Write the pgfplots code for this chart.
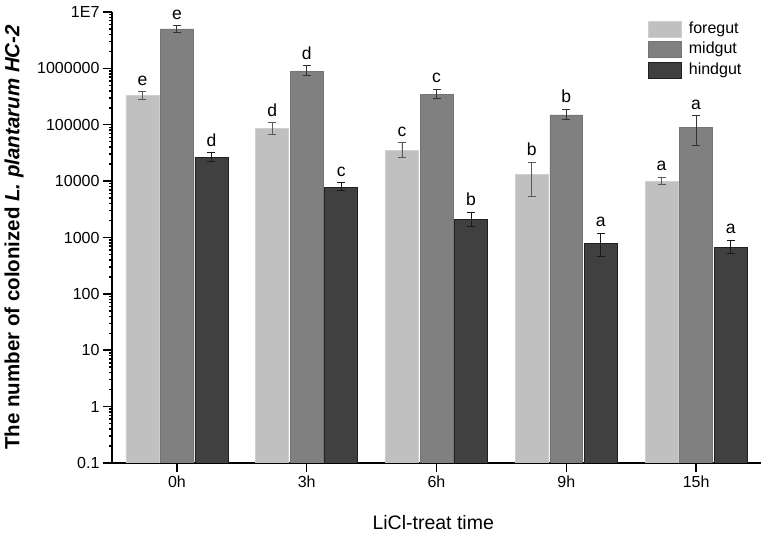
\documentclass[border=0pt]{standalone}
\usepackage{fontspec}
\setmainfont{Liberation Sans}
\usepackage{pgfplots}
\pgfplotsset{compat=1.18}
\definecolor{forefill}{HTML}{C0C0C0}
\definecolor{foredraw}{HTML}{CFCFCF}
\definecolor{midfill}{HTML}{808080}
\definecolor{middraw}{HTML}{747474}
\definecolor{hindfill}{HTML}{404040}
\definecolor{hinddraw}{HTML}{202020}
\begin{document}
\begin{tikzpicture}
\begin{axis}[
  scale only axis, width=649pt, height=451pt,
  ymode=log, ymin=0.1, ymax=1e7, log origin=infty,
  xmin=-0.5, xmax=4.5,
  xtick={0,1,2,3,4}, xticklabels={0h,3h,6h,9h,15h},
  ytick={0.1,1,10,100,1000,10000,100000,1000000,10000000},
  yticklabels={0.1,1,10,100,1000,10000,100000,1000000,1E7},
  axis x line*=bottom, axis y line*=left,
  axis line style={line width=1.3pt, black},
  xtick align=outside, ytick align=outside, major tick length=9pt,
  tick style={black, line width=1.5pt},
  ticklabel style={font=\fontsize{16}{16}\selectfont},
  xlabel={LiCl-treat time},
  xlabel style={at={(axis description cs:0.495,-0.131)}, anchor=center, font=\fontsize{19.5}{20}\selectfont},
  ylabel={\bfseries The number of colonized \textit{L. plantarum HC-2}},
  ylabel style={at={(axis description cs:-0.151,0.5)}, anchor=center, font=\fontsize{20.5}{21}\selectfont},
  legend style={at={(axis description cs:0.826,0.981)}, anchor=north west, draw=none, fill=none,
    inner sep=0pt, row sep=4pt, font=\fontsize{16}{16}\selectfont,
    nodes={inner sep=0pt, text height=12pt, text depth=4pt}},
  legend cell align=left,
  mylegend/.style={legend image code/.code={\draw[##1] (0pt,-8pt) rectangle (33pt,8pt); \path (40pt,0pt);}},
  letters/.style={draw=none, forget plot, nodes near coords, point meta=explicit symbolic,
    nodes near coords style={anchor=south, inner sep=0pt, yshift=6pt, font=\fontsize{17.5}{18}\selectfont, black}},
]
\coordinate (O) at (rel axis cs:0,0);
% foregut
\addplot[ybar, bar width=0.254, bar shift=0, fill=forefill, draw=foredraw, line width=0.6pt, mylegend,
  error bars/.cd, y dir=both, y explicit,
  error bar style={line width=0.9pt, black!65},
  error mark options={rotate=90, mark size=4pt, line width=0.9pt, black!65}]
coordinates {
 (-0.266,330000) += (0,60000) -= (0,50000)
 (0.734,85000) += (0,24000) -= (0,19000)
 (1.734,35000) += (0,13000) -= (0,9000)
 (2.734,13100) += (0,8600) -= (0,7800)
 (3.734,9960) += (0,1740) -= (0,1360)
};
\addlegendentry{foregut}
% midgut
\addplot[ybar, bar width=0.254, bar shift=0, fill=midfill, draw=middraw, line width=0.6pt, mylegend,
  error bars/.cd, y dir=both, y explicit,
  error bar style={line width=0.9pt, black!80},
  error mark options={rotate=90, mark size=4pt, line width=0.9pt, black!80}]
coordinates {
 (0,5000000) += (0,700000) -= (0,600000)
 (1,895000) += (0,225000) -= (0,155000)
 (2,350000) += (0,80000) -= (0,60000)
 (3,150000) += (0,39000) -= (0,27000)
 (4,90600) += (0,54400) -= (0,47600)
};
\addlegendentry{midgut}
% hindgut
\addplot[ybar, bar width=0.254, bar shift=0, fill=hindfill, draw=hinddraw, line width=0.6pt, mylegend,
  error bars/.cd, y dir=both, y explicit,
  error bar style={line width=0.9pt, black!90},
  error mark options={rotate=90, mark size=4pt, line width=0.9pt, black!90}]
coordinates {
 (0.266,26600) += (0,5400) -= (0,4600)
 (1.266,7800) += (0,1600) -= (0,1000)
 (2.266,2080) += (0,720) -= (0,530)
 (3.266,789) += (0,401) -= (0,321)
 (4.266,670) += (0,220) -= (0,155)
};
\addlegendentry{hindgut}
\addplot[letters] coordinates {
 (-0.266,390000) [e] (0.734,109000) [d] (1.734,48000) [c] (2.734,21700) [b] (3.734,11700) [a]
};
\addplot[letters] coordinates {
 (0,5700000) [e] (1,1120000) [d] (2,430000) [c] (3,189000) [b] (4,145000) [a]
};
\addplot[letters] coordinates {
 (0.266,32000) [d] (1.266,9400) [c] (2.266,2800) [b] (3.266,1190) [a] (4.266,890) [a]
};
\end{axis}
\pgfresetboundingbox
\path[use as bounding box] ([shift={(-112pt,-71pt)}]O) rectangle ++(765pt,534pt);
\end{tikzpicture}
\end{document}
